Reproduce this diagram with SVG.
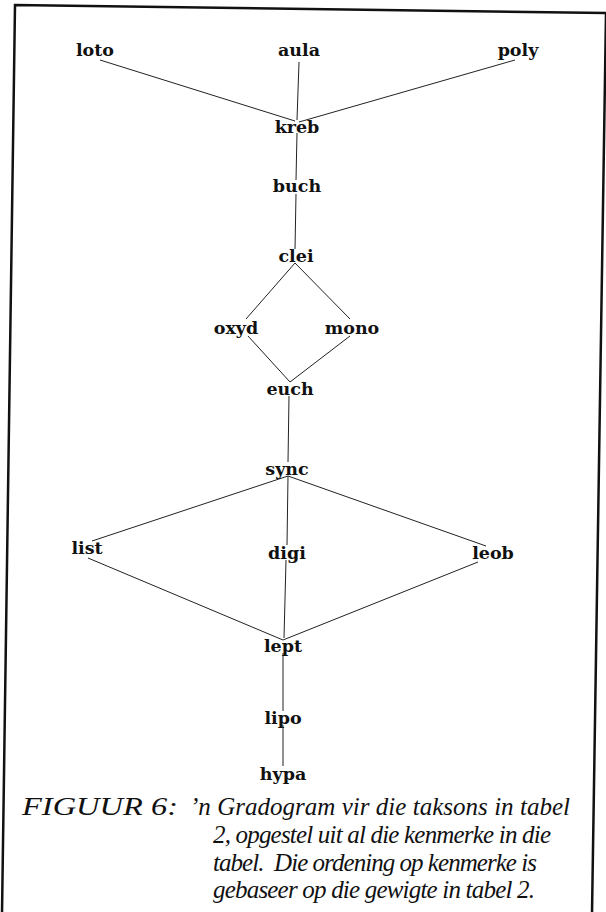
<svg xmlns="http://www.w3.org/2000/svg" width="606" height="912" viewBox="0 0 606 912">
  <style>
    .node text { font-family: "DejaVu Serif", "Liberation Serif", serif; font-weight: bold; font-size: 17.5px; fill: #111; text-anchor: middle; }
    .edges line { stroke: #222; stroke-width: 1; }
    .caption { font-family: "Liberation Serif", serif; font-style: italic; font-size: 25px; fill: #111; white-space: pre; }
    .frame { fill: none; stroke: #111; stroke-width: 2.5; }
  </style>
  <rect width="606" height="912" fill="#fff"/>
  <!-- page frame, slightly skewed -->
  <polygon class="frame" points="15,5 606,13 592,914 2,914"/>

  <g class="edges">
    <line x1="100" y1="60" x2="295" y2="121"/>
    <line x1="299" y1="62" x2="297" y2="120"/>
    <line x1="515" y1="60" x2="299" y2="122"/>
    <line x1="297" y1="133" x2="296" y2="180"/>
    <line x1="296" y1="194" x2="295" y2="249"/>
    <line x1="295" y1="263" x2="246" y2="319"/>
    <line x1="295" y1="263" x2="350" y2="319"/>
    <line x1="248" y1="336" x2="290" y2="382"/>
    <line x1="350" y1="336" x2="290" y2="382"/>
    <line x1="289" y1="396" x2="288" y2="462"/>
    <line x1="288" y1="476" x2="92" y2="541"/>
    <line x1="288" y1="476" x2="486" y2="546"/>
    <line x1="288" y1="476" x2="287" y2="545"/>
    <line x1="286" y1="560" x2="284" y2="638"/>
    <line x1="88" y1="558" x2="283" y2="640"/>
    <line x1="478" y1="562" x2="283" y2="640"/>
    <line x1="283" y1="653" x2="283" y2="711"/>
    <line x1="283" y1="725" x2="283" y2="766"/>
  </g>

  <g id="loto" class="node"><text x="95" y="56">loto</text></g>
  <g id="aula" class="node"><text x="299" y="56">aula</text></g>
  <g id="poly" class="node"><text x="518" y="56">poly</text></g>
  <g id="kreb" class="node"><text x="297" y="133">kreb</text></g>
  <g id="buch" class="node"><text x="297" y="192">buch</text></g>
  <g id="clei" class="node"><text x="296" y="262">clei</text></g>
  <g id="oxyd" class="node"><text x="236" y="334">oxyd</text></g>
  <g id="mono" class="node"><text x="352" y="334">mono</text></g>
  <g id="euch" class="node"><text x="290" y="395">euch</text></g>
  <g id="sync" class="node"><text x="287" y="475">sync</text></g>
  <g id="list" class="node"><text x="87" y="554">list</text></g>
  <g id="digi" class="node"><text x="287" y="559">digi</text></g>
  <g id="leob" class="node"><text x="493" y="559">leob</text></g>
  <g id="lept" class="node"><text x="283" y="652">lept</text></g>
  <g id="lipo" class="node"><text x="283" y="724">lipo</text></g>
  <g id="hypa" class="node"><text x="283" y="780">hypa</text></g>

  <!-- caption with hanging indent -->
  <g id="caption">
    <text class="caption" x="22" y="815" font-size="26" textLength="156" lengthAdjust="spacingAndGlyphs">FIGUUR 6:</text>
    <text class="caption" x="190" y="815" textLength="380" lengthAdjust="spacing">’n Gradogram vir die taksons in tabel</text>
    <text class="caption" x="213" y="843" textLength="338" lengthAdjust="spacing">2, opgestel uit al die kenmerke in die</text>
    <text class="caption" x="213" y="871" textLength="324" lengthAdjust="spacing">tabel.  Die ordening op kenmerke is</text>
    <text class="caption" x="213" y="898" textLength="322" lengthAdjust="spacing">gebaseer op die gewigte in tabel 2.</text>
  </g>
</svg>
